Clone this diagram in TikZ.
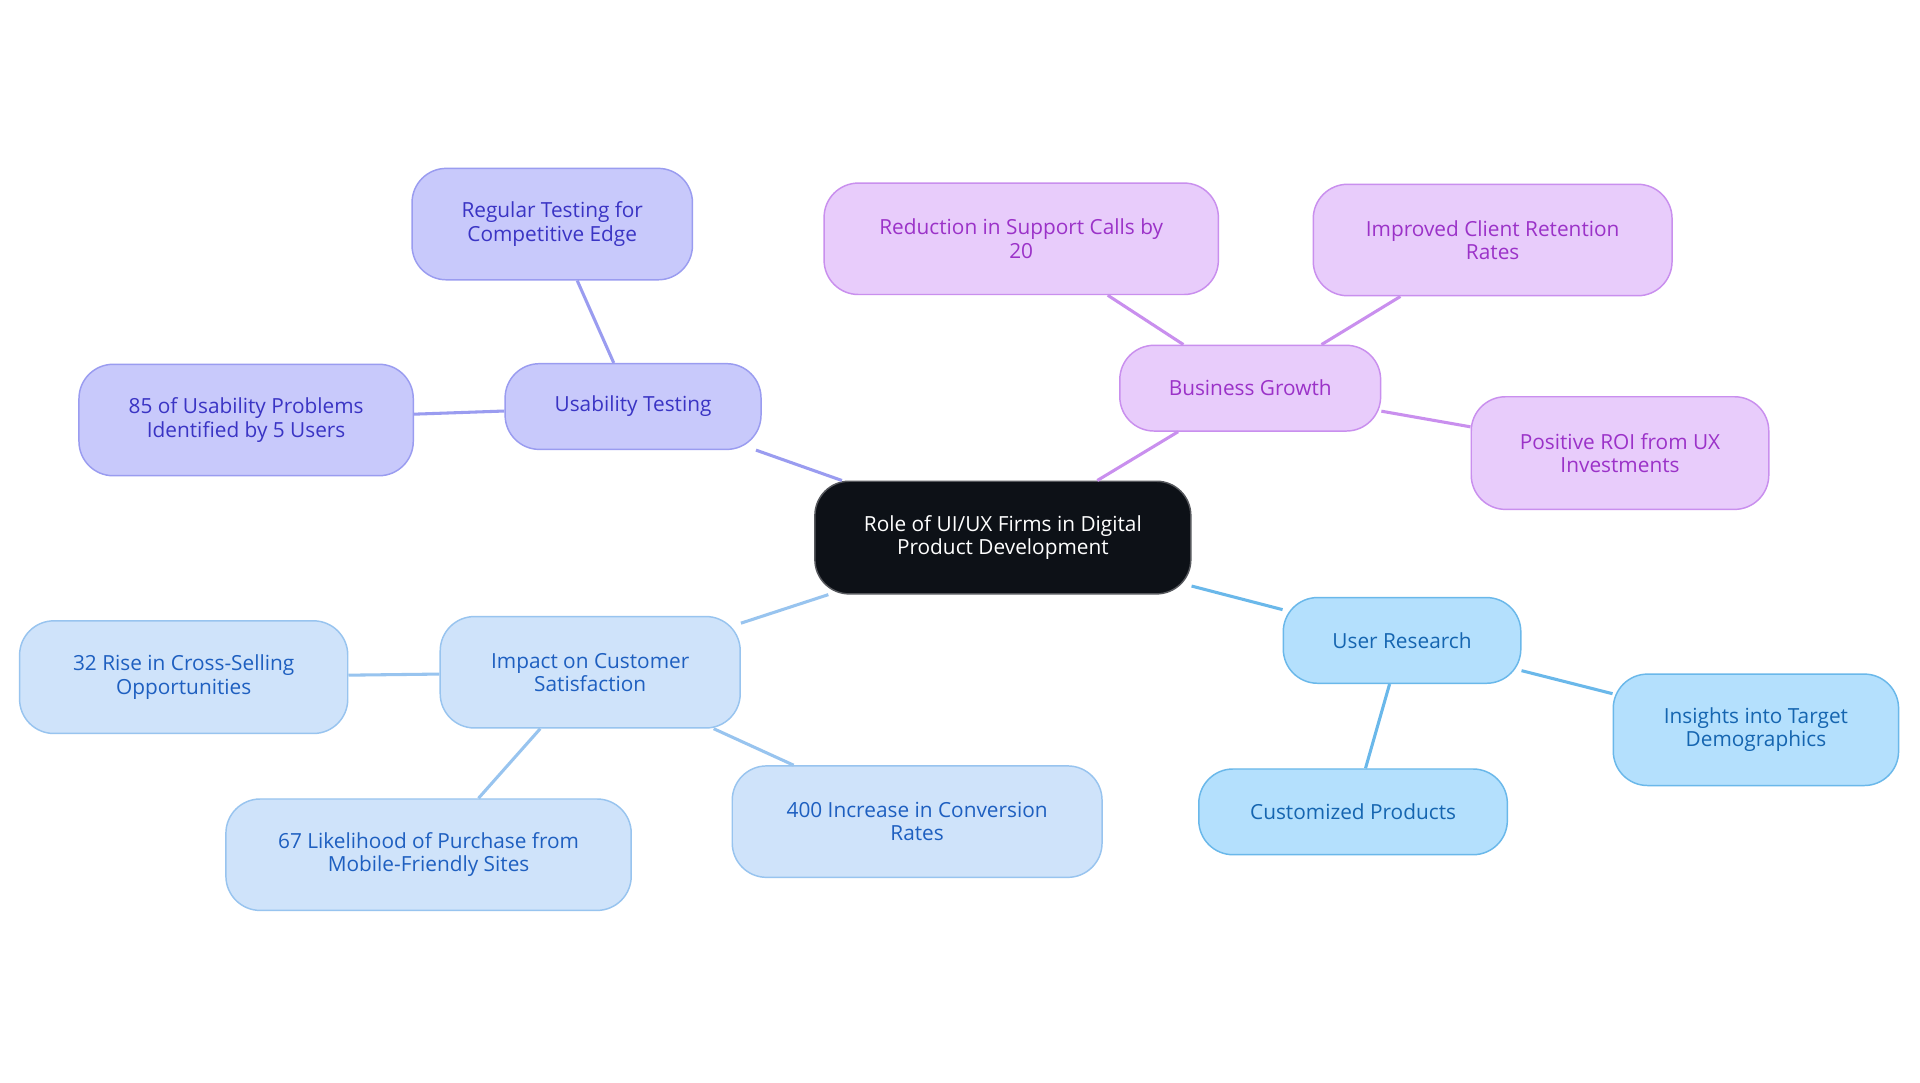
\documentclass[tikz,border=0pt]{standalone}
\usepackage{fontspec}
\setmainfont{Open Sans}
\begin{document}
\begin{tikzpicture}[x=1pt,y=-1pt,
  base/.style={rounded corners=28pt,line width=1.2pt,align=center,font=\fontsize{17}{19}\selectfont,inner sep=0pt},
  pu/.style={base,fill=pfill,draw=pdraw,text=ptext},
  mg/.style={base,fill=mfill,draw=mdraw,text=mtext},
  cy/.style={base,fill=cfill,draw=cdraw,text=ctext},
  bl/.style={base,fill=bfill,draw=bdraw,text=btext},
  e/.style={line width=2.5pt}]
\definecolor{pfill}{HTML}{C8C9FB}\definecolor{pdraw}{HTML}{9A9CF0}\definecolor{ptext}{HTML}{3A34C4}
\definecolor{mfill}{HTML}{E8CCFB}\definecolor{mdraw}{HTML}{C98FEE}\definecolor{mtext}{HTML}{9B32C8}
\definecolor{cfill}{HTML}{B4E0FD}\definecolor{cdraw}{HTML}{6AB8EA}\definecolor{ctext}{HTML}{1565B0}
\definecolor{bfill}{HTML}{CFE3FA}\definecolor{bdraw}{HTML}{98C4EF}\definecolor{btext}{HTML}{1E5FC0}
\definecolor{dark}{HTML}{0D1117}
\fill[white] (0,0) rectangle (1568,884);
\useasboundingbox (0,0) rectangle (1568,884);
\node[base,fill=dark,draw=dark!70,text=white,minimum width=307pt,minimum height=92pt] (c) at (819,439) {Role of UI/UX Firms in Digital\\Product Development};
\node[pu,minimum width=209pt,minimum height=70pt] (ut) at (517,332) {Usability Testing};
\node[pu,minimum width=229pt,minimum height=91pt] (rt) at (451,183) {Regular Testing for\\Competitive Edge};
\node[pu,minimum width=273pt,minimum height=91pt] (u85) at (201,343) {85 of Usability Problems\\Identified by 5 Users};
\node[mg,minimum width=213pt,minimum height=70pt] (bg) at (1021,317) {Business Growth};
\node[mg,minimum width=322pt,minimum height=91pt] (rs) at (834,195) {Reduction in Support Calls by\\20};
\node[mg,minimum width=293pt,minimum height=91pt] (ic) at (1219,196) {Improved Client Retention\\Rates};
\node[mg,minimum width=243pt,minimum height=92pt] (roi) at (1323,370) {Positive ROI from UX\\Investments};
\node[cy,minimum width=194pt,minimum height=70pt] (ur) at (1145,523) {User Research};
\node[cy,minimum width=233pt,minimum height=91pt] (it) at (1434,596) {Insights into Target\\Demographics};
\node[cy,minimum width=252pt,minimum height=70pt] (cp) at (1105,663) {Customized Products};
\node[bl,minimum width=245pt,minimum height=91pt] (im) at (482,549) {Impact on Customer\\Satisfaction};
\node[bl,minimum width=268pt,minimum height=92pt] (r32) at (150,553) {32 Rise in Cross-Selling\\Opportunities};
\node[bl,minimum width=331pt,minimum height=91pt] (l67) at (350,698) {67 Likelihood of Purchase from\\Mobile-Friendly Sites};
\node[bl,minimum width=302pt,minimum height=91pt] (i400) at (749,671) {400 Increase in Conversion\\Rates};
\begin{scope}[on background layer/.style={}]
\end{scope}
\begin{pgfinterruptboundingbox}\end{pgfinterruptboundingbox}
\draw[e,pdraw] (c) -- (ut); \draw[e,pdraw] (ut) -- (rt); \draw[e,pdraw] (ut) -- (u85);
\draw[e,mdraw] (c) -- (bg); \draw[e,mdraw] (bg) -- (rs); \draw[e,mdraw] (bg) -- (ic); \draw[e,mdraw] (bg) -- (roi);
\draw[e,cdraw] (c) -- (ur); \draw[e,cdraw] (ur) -- (it); \draw[e,cdraw] (ur) -- (cp);
\draw[e,bdraw] (c) -- (im); \draw[e,bdraw] (im) -- (r32); \draw[e,bdraw] (im) -- (l67); \draw[e,bdraw] (im) -- (i400);
\end{tikzpicture}
\end{document}
